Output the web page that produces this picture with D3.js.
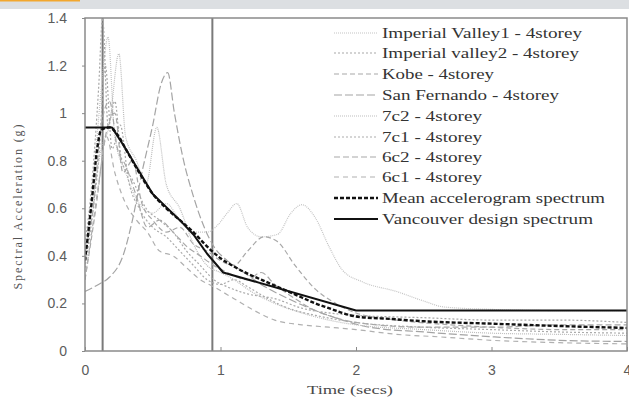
<!DOCTYPE html>
<html lang="en">
<head>
<meta charset="UTF-8">
<script src="https://d3js.org/d3.v7.min.js"></script>
<title>Spectral Acceleration</title>
<style>
  body { margin: 0; background: #fff; }
</style>
</head>
<body>
<div id="chart"></div>
<script>
// tick labels
var xTicks = [0, 1, 2, 3, 4];
var yTicks = [0, 0.2, 0.4, 0.6, 0.8, 1, 1.2, 1.4];

// period markers (secs)
var markers = [0.13, 0.94];

// [period, Sa] pairs
var ivalley1 = [[0,0.36],[0.06,0.7],[0.12,1.1],[0.17,1.32],[0.22,0.9],[0.3,0.75],[0.4,0.62],[0.5,0.58],[0.6,0.62],[0.7,0.55],[0.8,0.5],[0.9,0.5],[0.98,0.53],[1.05,0.58],[1.12,0.62],[1.2,0.52],[1.3,0.48],[1.42,0.49],[1.52,0.58],[1.6,0.615],[1.7,0.56],[1.8,0.44],[1.9,0.34],[2.05,0.29],[2.3,0.25],[2.5,0.21],[2.65,0.185],[3,0.175],[3.5,0.17],[4,0.17]];
var ivalley2 = [[0,0.45],[0.05,0.7],[0.1,1.1],[0.13,1.4],[0.17,0.95],[0.22,1.05],[0.27,0.8],[0.35,0.72],[0.45,0.6],[0.55,0.55],[0.65,0.5],[0.75,0.42],[0.85,0.36],[0.95,0.3],[1.05,0.27],[1.2,0.24],[1.4,0.22],[1.6,0.18],[1.8,0.16],[2,0.15],[2.5,0.14],[3,0.13],[3.5,0.13],[4,0.12]];
var kobe = [[0,0.3],[0.08,0.6],[0.15,0.9],[0.22,1.0],[0.28,0.75],[0.35,0.8],[0.42,0.62],[0.5,0.55],[0.6,0.5],[0.7,0.52],[0.8,0.45],[0.9,0.42],[1.0,0.38],[1.1,0.36],[1.2,0.42],[1.32,0.48],[1.42,0.46],[1.55,0.36],[1.7,0.26],[1.85,0.2],[2,0.16],[2.3,0.13],[2.7,0.11],[3,0.1],[3.5,0.09],[4,0.09]];
var sanFernando = [[0,0.25],[0.1,0.28],[0.18,0.31],[0.28,0.4],[0.35,0.55],[0.42,0.75],[0.5,0.95],[0.56,1.12],[0.61,1.17],[0.66,1.0],[0.72,0.82],[0.8,0.65],[0.88,0.52],[0.95,0.44],[1.05,0.38],[1.15,0.34],[1.3,0.28],[1.5,0.22],[1.7,0.17],[1.9,0.13],[2.1,0.1],[2.5,0.08],[3,0.06],[3.5,0.045],[4,0.04]];
var c72 = [[0,0.4],[0.06,0.65],[0.12,0.85],[0.18,0.95],[0.25,1.25],[0.3,0.9],[0.38,0.8],[0.45,0.7],[0.53,0.94],[0.6,0.7],[0.7,0.6],[0.8,0.45],[0.9,0.36],[1.0,0.33],[1.1,0.3],[1.2,0.26],[1.4,0.2],[1.6,0.16],[1.8,0.13],[2,0.11],[2.5,0.09],[3,0.075],[3.5,0.07],[4,0.065]];
var c71 = [[0,0.35],[0.05,0.55],[0.1,0.8],[0.15,1.2],[0.2,0.85],[0.26,0.95],[0.32,0.72],[0.4,0.6],[0.5,0.52],[0.6,0.48],[0.7,0.42],[0.8,0.36],[0.9,0.3],[1.0,0.28],[1.1,0.3],[1.2,0.27],[1.35,0.22],[1.5,0.18],[1.7,0.15],[2,0.12],[2.5,0.1],[3,0.09],[3.5,0.08],[4,0.075]];
var c62 = [[0,0.42],[0.06,0.6],[0.12,0.95],[0.18,1.05],[0.24,0.85],[0.3,0.78],[0.38,0.65],[0.46,0.52],[0.55,0.55],[0.65,0.5],[0.75,0.44],[0.85,0.4],[0.95,0.36],[1.05,0.33],[1.2,0.3],[1.3,0.33],[1.4,0.28],[1.55,0.22],[1.7,0.17],[1.85,0.14],[2,0.12],[2.5,0.1],[3,0.1],[3.5,0.11],[4,0.11]];
var c61 = [[0,0.3],[0.05,0.5],[0.1,0.7],[0.16,0.9],[0.22,0.75],[0.3,0.62],[0.38,0.55],[0.46,0.5],[0.55,0.42],[0.65,0.4],[0.75,0.35],[0.85,0.3],[0.95,0.27],[1.1,0.22],[1.25,0.17],[1.4,0.13],[1.6,0.11],[1.8,0.1],[2,0.09],[2.3,0.07],[2.6,0.06],[3,0.045],[3.5,0.035],[4,0.03]];
var meanSpec = [[0,0.38],[0.05,0.63],[0.09,0.85],[0.12,0.93],[0.18,0.94],[0.25,0.9],[0.3,0.85],[0.4,0.75],[0.5,0.66],[0.6,0.6],[0.7,0.55],[0.8,0.5],[0.9,0.44],[1.0,0.39],[1.1,0.355],[1.2,0.325],[1.3,0.3],[1.4,0.275],[1.5,0.25],[1.6,0.225],[1.7,0.2],[1.8,0.18],[1.9,0.16],[2,0.145],[2.25,0.135],[2.5,0.125],[3,0.115],[3.5,0.105],[4,0.097]];
var vancouver = [[0,0.94],[0.2,0.94],[0.3,0.85],[0.4,0.755],[0.5,0.66],[0.6,0.605],[0.7,0.55],[0.8,0.49],[0.9,0.41],[1.02,0.33],[2,0.17],[4,0.17]];

var names = ["Imperial Valley1 - 4storey", "Imperial valley2 - 4storey", "Kobe - 4storey",
  "San Fernando - 4storey", "7c2 - 4storey", "7c1 - 4storey", "6c2 - 4storey", "6c1 - 4storey",
  "Mean accelerogram spectrum", "Vancouver design spectrum"];
var seriesData = [ivalley1, ivalley2, kobe, sanFernando, c72, c71, c62, c61, meanSpec, vancouver];

// line styles
var colors = ["#c4c4c4", "#a8a8a8", "#a8a8a8", "#a4a4a4", "#bdbdbd", "#ababab", "#a8a8a8", "#b0b0b0", "#111", "#111"];
var dashes = ["1,1", "2,2", "5,3", "8,3", "1,1", "2,2", "6,3", "5,4", "4,2", null];
var widths = [1.2, 1.2, 1.2, 1.2, 1.2, 1.2, 1.2, 1.2, 2.4, 2];
var labelLen = [200, 197, 112, 177, 100, 100, 100, 100, 223, 211];

var width = 629, height = 398;
var mLeft = 85, mRight = 627, mTop = 18, mBottom = 351;

var svg = d3.select("#chart").append("svg")
  .attr("width", width).attr("height", height);

// top band
svg.append("rect").attr("x", 0).attr("y", 0).attr("width", width).attr("height", 9).attr("fill", "#dcdfe2");
svg.append("rect").attr("x", 0).attr("y", 0).attr("width", 80).attr("height", 1.5).attr("fill", "#f2a72e");

var x = d3.scaleLinear().domain([0, 4]).range([mLeft, mRight]);
var y = d3.scaleLinear().domain([0, 1.4]).range([mBottom, mTop]);

svg.append("clipPath").attr("id", "clip")
  .append("rect").attr("x", mLeft).attr("y", mTop).attr("width", mRight - mLeft).attr("height", mBottom - mTop);

var line = d3.line().x(d => x(d[0])).y(d => y(d[1])).curve(d3.curveMonotoneX);
var lineStraight = d3.line().x(d => x(d[0])).y(d => y(d[1]));

var plot = svg.append("g").attr("clip-path", "url(#clip)");

// vertical markers
plot.selectAll(".marker").data(markers).enter().append("line")
  .attr("x1", d => x(d)).attr("x2", d => x(d))
  .attr("y1", mTop).attr("y2", mBottom)
  .attr("stroke", "#7a7a7a").attr("stroke-width", 2);

// design spectrum is piecewise straight, records are smooth
plot.selectAll(".series").data(seriesData).enter().append("path")
  .attr("d", (d, i) => i == 9 ? lineStraight(d) : line(d))
  .attr("fill", "none")
  .attr("stroke", (d, i) => colors[i])
  .attr("stroke-width", (d, i) => widths[i])
  .attr("stroke-linejoin", "round")
  .attr("stroke-dasharray", (d, i) => dashes[i]);

// frame
svg.append("rect").attr("x", mLeft).attr("y", mTop).attr("width", mRight - mLeft).attr("height", mBottom - mTop)
  .attr("fill", "none").attr("stroke", "#8a8a8a").attr("stroke-width", 1.5);

// axes
var xAxis = svg.append("g").attr("transform", "translate(0," + mBottom + ")")
  .call(d3.axisBottom(x).tickValues(xTicks).tickSize(-4).tickPadding(14).tickFormat(String));
var yAxis = svg.append("g").attr("transform", "translate(" + mLeft + ",0)")
  .call(d3.axisLeft(y).tickValues(yTicks).tickSize(3).tickPadding(15).tickFormat(String));
[xAxis, yAxis].forEach(function(a) {
  a.select(".domain").remove();
  a.selectAll("line").attr("stroke", "#8a8a8a");
  a.selectAll("text").attr("fill", "#5c5c5c")
    .style("font-family", "Liberation Sans, Arial, sans-serif").style("font-size", "14px");
});

// axis titles
svg.append("text").attr("x", 350).attr("y", 394).attr("text-anchor", "middle")
  .attr("textLength", 86).attr("lengthAdjust", "spacingAndGlyphs")
  .style("font-family", "Liberation Serif, serif").style("font-size", "13px").attr("fill", "#4a4a4a")
  .text("Time (secs)");
svg.append("text").attr("transform", "translate(22,207) rotate(-90)").attr("text-anchor", "middle")
  .attr("textLength", 165).attr("lengthAdjust", "spacing")
  .style("font-family", "Liberation Serif, serif").style("font-size", "12px").attr("fill", "#555")
  .text("Spectral Acceleration (g)");

// legend
var rowY = [33, 53, 74, 95, 116, 137, 157, 177, 198, 219];
var legend = svg.append("g");
var rows = legend.selectAll("g").data(names).enter().append("g")
  .attr("transform", (d, i) => "translate(0," + rowY[i] + ")");
rows.append("line").attr("x1", 334).attr("x2", 378).attr("y1", 0).attr("y2", 0)
  .attr("stroke", (d, i) => colors[i])
  .attr("stroke-width", (d, i) => widths[i])
  .attr("stroke-dasharray", (d, i) => dashes[i]);
rows.append("text").attr("x", 382).attr("y", 5)
  .attr("textLength", (d, i) => labelLen[i]).attr("lengthAdjust", "spacingAndGlyphs")
  .style("font-family", "Liberation Serif, serif").style("font-size", "14px").attr("fill", "#333")
  .text(d => d);
</script>
</body>
</html>
